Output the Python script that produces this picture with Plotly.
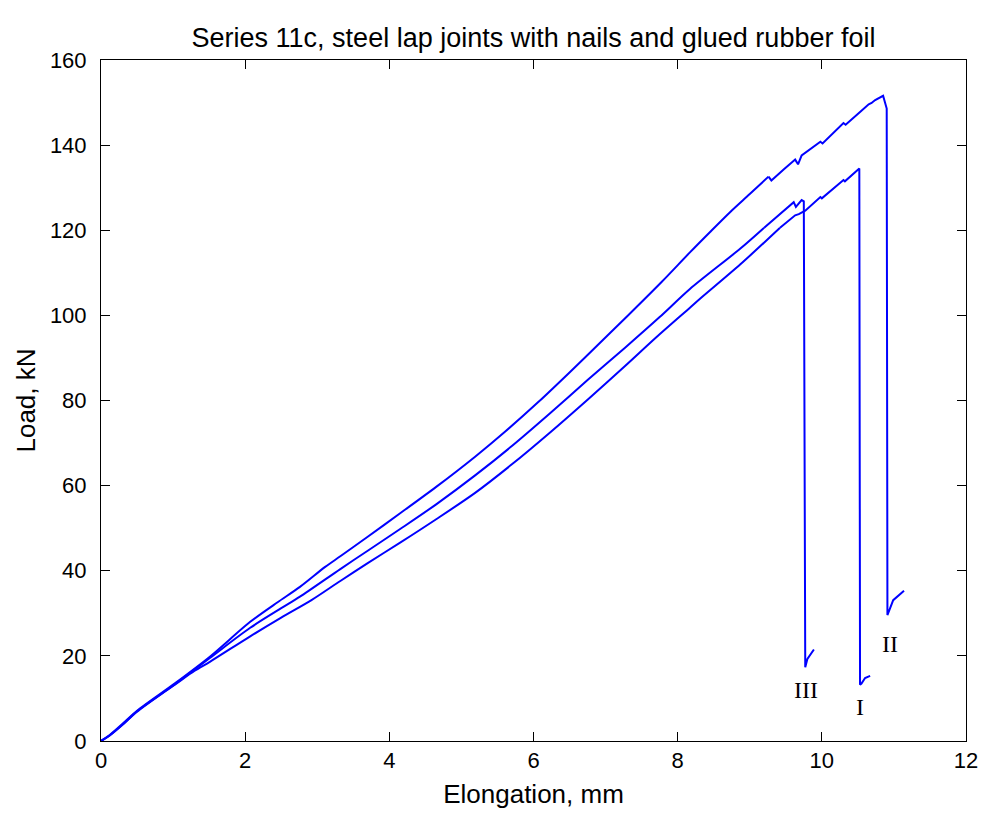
import plotly.graph_objects as go

# Curve I (lower)
x_I = [0, 0.12, 0.31, 0.5, 1.03, 1.3, 1.51, 2.07, 2.5, 2.92, 3.32, 3.7, 4.15, 4.65, 5.19, 5.7, 6.23, 6.75, 7.27, 7.7, 8.17, 8.31,
       8.87, 9.42, 9.63, 9.68, 9.77, 9.98, 10.0, 10.3, 10.32, 10.52, 10.53, 10.55, 10.6, 10.67]
y_I = [0, 1.3, 4.0, 7.0, 13.3, 16.5, 18.6, 24.6, 29.0, 33.1, 37.6, 41.8, 46.6, 52.1, 58.3, 65.0, 72.5, 80.2, 88.1, 94.8, 101.8, 103.9,
       112.0, 120.6, 123.5, 123.8, 124.6, 127.8, 127.5, 131.8, 131.5, 134.5, 13.2, 13.5, 14.8, 15.3]

# Curve II (upper)
x_II = [0, 0.12, 0.31, 0.5, 1.03, 1.51, 2.07, 2.45, 2.76, 3.11, 3.32, 3.7, 4.15, 4.65, 5.19, 5.6, 6.07, 6.5, 6.92, 7.3,
        7.78, 8.17, 8.45, 8.73, 9.0, 9.26, 9.3, 9.47, 9.63, 9.67, 9.72, 9.98, 10.01, 10.3, 10.33, 10.53, 10.65, 10.69,
        10.74, 10.85, 10.9, 10.91, 10.99, 11.14]
y_II = [0, 1.4, 4.2, 7.1, 13.6, 19.8, 28.0, 32.6, 36.2, 40.9, 43.4, 48.0, 53.5, 59.7, 66.8, 72.6, 79.7, 86.6, 93.5, 99.8,
        107.9, 114.8, 119.6, 124.3, 128.5, 132.6, 131.7, 134.3, 136.6, 135.5, 137.6, 140.8, 140.4, 145.2, 144.8, 147.8, 149.6, 149.9,
        150.6, 151.6, 148.6, 29.6, 33.1, 35.3]

# Curve III (middle)
x_III = [0, 0.12, 0.31, 0.5, 1.03, 1.51, 2.07, 2.5, 2.76, 3.32, 3.7, 4.15, 4.65, 5.19, 5.7, 6.23, 6.75, 7.27, 7.75, 8.17,
         8.87, 9.2, 9.56, 9.61, 9.64, 9.72, 9.75, 9.77, 9.8, 9.89]
y_III = [0, 1.3, 4.0, 6.9, 13.4, 19.5, 26.6, 31.2, 33.9, 40.4, 44.7, 49.8, 55.6, 62.4, 69.3, 77.0, 84.8, 92.4, 99.6, 106.2,
         115.7, 120.6, 125.9, 126.6, 125.5, 127.1, 126.8, 17.3, 19.3, 21.5]

label_text = ["I", "II", "III"]
label_x = [10.53, 10.95, 9.78]
label_y = [8.1, 22.9, 12.1]

SMOOTH_UNTIL = 9.2  # x below which the recorded curve is drawn smoothed

BLUE = "#0000FF"
fig = go.Figure()
for xs, ys in [(x_I, y_I), (x_II, y_II), (x_III, y_III)]:
    k = next(i for i, v in enumerate(xs) if v >= SMOOTH_UNTIL)
    fig.add_trace(go.Scatter(x=xs[:k + 1], y=ys[:k + 1], mode="lines",
                             line=dict(color=BLUE, width=2, shape="spline", smoothing=0.8),
                             showlegend=False))
    fig.add_trace(go.Scatter(x=xs[k:], y=ys[k:], mode="lines",
                             line=dict(color=BLUE, width=2), showlegend=False))

for t, lx, ly in zip(label_text, label_x, label_y):
    fig.add_annotation(x=lx, y=ly, text=t, showarrow=False,
                       font=dict(family="Liberation Serif, Times New Roman, serif", size=24, color="black"))

W, H = 983, 809  # page body has an 8 px margin
font_main = "Liberation Sans, Arial, Helvetica, sans-serif"
fig.update_layout(
    width=W, height=H,
    margin=dict(l=93, r=25, t=52, b=76),
    paper_bgcolor="white", plot_bgcolor="white",
    font=dict(family=font_main, size=22, color="black"),
    title=dict(text="Series 11c, steel lap joints with nails and glued rubber foil",
               xref="paper", x=0.5, xanchor="center", y=1 - 30 / H, yanchor="middle",
               font=dict(family=font_main, size=27, color="black")),
    xaxis=dict(range=[0, 12], dtick=2, tick0=0, showgrid=False, zeroline=False,
               showline=True, linecolor="black", linewidth=1, mirror="allticks",
               ticks="inside", ticklen=9, tickcolor="black",
               title=dict(text="Elongation, mm", standoff=12)),
    yaxis=dict(range=[0, 160], dtick=20, tick0=0, showgrid=False, zeroline=False,
               showline=True, linecolor="black", linewidth=1, mirror="allticks",
               ticks="inside", ticklen=9, tickcolor="black", ticklabelstandoff=9,
               title=dict(text="Load, kN", standoff=6)),
)

fig.write_html("out.html")
